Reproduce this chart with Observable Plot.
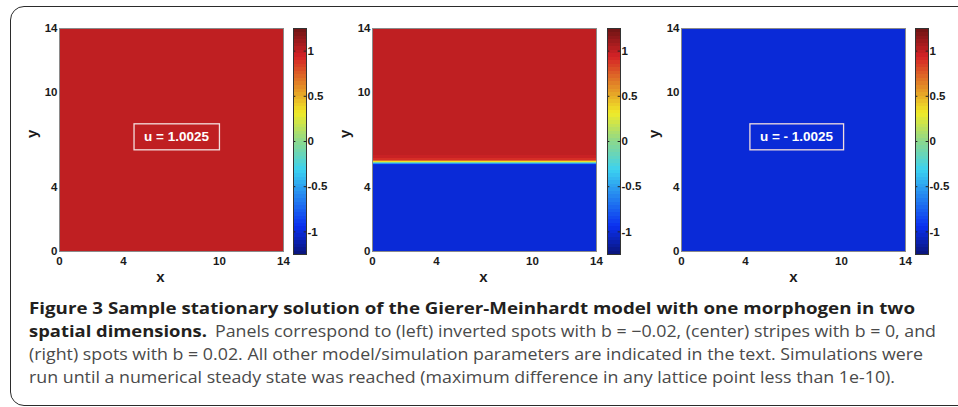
<!DOCTYPE html>
<html>
<head>
<meta charset="utf-8">
<script src="https://cdn.jsdelivr.net/npm/d3@7"></script>
<script src="https://cdn.jsdelivr.net/npm/@observablehq/plot@0.6"></script>
<style>
  html, body { margin: 0; padding: 0; background: #fff; }
  #fig { position: relative; width: 958px; height: 407px; overflow: hidden; background: #fff; }
  .frame { position: absolute; left: 10px; top: 6px; width: 1100px; height: 398px;
           border: 1.5px solid #2b2b2b; border-radius: 14px; }
  .panel { position: absolute; top: 0; }
  #caption { position: absolute; left: 0; top: 0; }
</style>
</head>
<body>
<div id="fig"><div class="frame"></div></div>
<script>
// ---- data ----
const xTicks = [0, 4, 10, 14];
const yTicks = [0, 4, 10, 14];
const domainXY = [0, 14];
const colorbarTicks = [-1, -0.5, 0, 0.5, 1];
const colorbarRange = [-1.25, 1.25];

// left panel: uniform field
const leftY0 = [0];
const leftY1 = [14];
const leftU = [1.0025];
// center panel: stripe profile along y
const stripeY0 = [0, 5.40, 5.46, 5.52, 5.58, 5.64, 5.72, 5.85, 6.0];
const stripeY1 = [5.40, 5.46, 5.52, 5.58, 5.64, 5.72, 5.85, 6.0, 14];
const stripeU = [-1.0025, -0.95, -0.55, -0.1, 0.35, 0.7, 0.9, 0.97, 1.0025];
// right panel: uniform field
const rightY0 = [0];
const rightY1 = [14];
const rightU = [-1.0025];

const panelLabels = ["u = 1.0025", null, "u = - 1.0025"];

const captionLines = [
  [{t: "Figure 3 Sample stationary solution of the Gierer-Meinhardt model with one morphogen in two", b: true}],
  [{t: "spatial dimensions.", b: true}, {t: "Panels correspond to (left) inverted spots with b = \u22120.02, (center) stripes with b = 0, and", b: false}],
  [{t: "(right) spots with b = 0.02. All other model/simulation parameters are indicated in the text. Simulations were", b: false}],
  [{t: "run until a numerical steady state was reached (maximum difference in any lattice point less than 1e-10).", b: false}]
];

// ---- styles ----
const jetDomain = [-1.25, -0.9375, -0.3125, 0, 0.3125, 0.9375, 1.25];
const jetRange = ["#0a1478", "#0a30f0", "#3cd2f0", "#8cd88c", "#f0eb28", "#d42226", "#6e1414"];
const colorScale = {type: "linear", domain: jetDomain, range: jetRange, clamp: true};
const axisFont = {fontFamily: "'Liberation Sans', Arial, sans-serif", fontSize: "11.5px", fontWeight: "bold", color: "#1a1a1a", background: "transparent", overflow: "visible"};

function rows(y0, y1, u) {
  return u.map((v, i) => ({x0: domainXY[0], x1: domainXY[1], y0: y0[i], y1: y1[i], u: v}));
}
const fields = [rows(leftY0, leftY1, leftU), rows(stripeY0, stripeY1, stripeU), rows(rightY0, rightY1, rightU)];

// layout: plot-frame left positions and colorbar left positions
const panelLeft = [14, 327, 636];
const cbarLeft = [293, 607, 915];
const labelDx = [5, 0, 3];
const xLabelDx = [-11, -1, 0];

const fig = document.getElementById("fig");

fields.forEach((data, i) => {
  const label = panelLabels[i];
  const p = Plot.plot({
    width: 274, height: 291,
    marginLeft: 45, marginRight: 5, marginTop: 28, marginBottom: 40,
    style: axisFont,
    x: {domain: domainXY, ticks: xTicks, tickSize: 0, tickPadding: 5, label: null},
    y: {domain: domainXY, ticks: yTicks, tickSize: 0, tickPadding: 2, label: null},
    color: colorScale,
    marks: [
      Plot.rect(data, {x1: "x0", x2: "x1", y1: "y0", y2: "y1", fill: "u", shapeRendering: "crispEdges"}),
      Plot.frame({stroke: "#8a8a8a", strokeWidth: 1}),
      Plot.text(label ? [label] : [], {frameAnchor: "middle", text: d => d, fill: "white",
        fontSize: 13.5, fontWeight: "bold", dx: labelDx[i], dy: -3, className: "ulabel"}),
      Plot.text(["x"], {frameAnchor: "bottom", text: d => d, dy: 30, dx: xLabelDx[i], fontSize: 15, fontWeight: "bold"}),
      Plot.text(["y"], {frameAnchor: "left", text: d => d, dx: -27, dy: -2, rotate: -90, fontSize: 15, fontWeight: "bold"})
    ]
  });
  const wrap = document.createElement("div");
  wrap.className = "panel";
  wrap.style.left = panelLeft[i] + "px";
  wrap.appendChild(p);
  fig.appendChild(wrap);

  // box around label
  const t = p.querySelector("g.ulabel text") || p.querySelector(".ulabel text");
  if (t) {
    const bb = t.getBBox();
    const padX = 10, padY = 5.5;
    const r = document.createElementNS("http://www.w3.org/2000/svg", "rect");
    const tr = t.getAttribute("transform");
    r.setAttribute("x", bb.x - padX);
    r.setAttribute("y", bb.y - padY);
    r.setAttribute("width", bb.width + 2 * padX);
    r.setAttribute("height", bb.height + 2 * padY);
    if (tr) r.setAttribute("transform", tr);
    r.setAttribute("fill", "none");
    r.setAttribute("stroke", "#f3dede");
    r.setAttribute("stroke-width", "1.3");
    t.parentNode.insertBefore(r, t);
  }

  // colorbar
  const cb = Plot.plot({
    width: 43, height: 291,
    marginLeft: 0, marginRight: 30, marginTop: 28, marginBottom: 37,
    style: axisFont,
    x: {domain: [0, 1], axis: null},
    y: {domain: colorbarRange, ticks: colorbarTicks, tickFormat: d => String(d), tickSize: 0, tickPadding: 1, label: null, axis: "right"},
    color: colorScale,
    marks: [
      Plot.raster({x1: 0, x2: 1, y1: colorbarRange[0], y2: colorbarRange[1], width: 1, height: 64,
        fill: (x, y) => y, imageRendering: "pixelated"}),
      Plot.ruleY(colorbarTicks, {x1: 0, x2: 0.18, stroke: "#222", strokeWidth: 1}),
      Plot.ruleY(colorbarTicks, {x1: 0.82, x2: 1, stroke: "#222", strokeWidth: 1}),
      Plot.frame({stroke: "#333", strokeWidth: 1})
    ]
  });
  const cw = document.createElement("div");
  cw.className = "panel";
  cw.style.left = cbarLeft[i] + "px";
  cw.appendChild(cb);
  fig.appendChild(cw);
});

// caption
const NS = "http://www.w3.org/2000/svg";
const cap = document.createElementNS(NS, "svg");
cap.setAttribute("id", "caption");
cap.setAttribute("width", 958);
cap.setAttribute("height", 407);
const baselines = [314, 337, 360, 383];
const segX = [[29], [29, 215], [29], [29]];
const segEnd = [[915], [207, 936], [923], [895]];
captionLines.forEach((line, li) => {
  line.forEach((seg, si) => {
    const el = document.createElementNS(NS, "text");
    el.setAttribute("x", segX[li][si]);
    el.setAttribute("y", baselines[li]);
    el.setAttribute("font-family", "'Open Sans', 'Noto Sans', sans-serif");
    el.setAttribute("font-size", "16.5");
    el.setAttribute("font-weight", seg.b ? "bold" : "normal");
    el.setAttribute("fill", seg.b ? "#231f20" : "#4a4a4a");
    el.setAttribute("textLength", segEnd[li][si] - segX[li][si]);
    el.setAttribute("lengthAdjust", "spacingAndGlyphs");
    el.textContent = seg.t;
    cap.appendChild(el);
  });
});
fig.appendChild(cap);
</script>
</body>
</html>
